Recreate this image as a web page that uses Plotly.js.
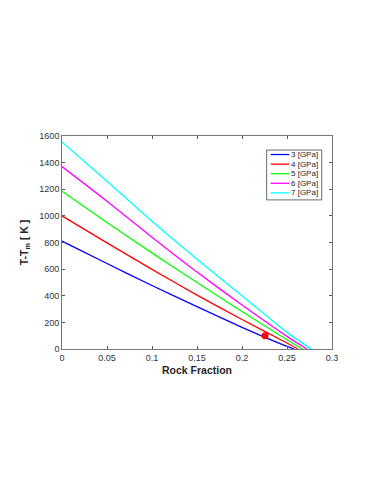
<!DOCTYPE html>
<html>
<head>
<meta charset="UTF-8">
<script src="https://cdn.plot.ly/plotly-3.0.1.min.js"></script>
<style>
  body { margin: 0; padding: 0; background: #fff; }
  #plot { width: 382px; height: 494px; }
</style>
</head>
<body>
<div id="plot"></div>
<script>
// curves
const names = ['3 [GPa]', '4 [GPa]', '5 [GPa]', '6 [GPa]', '7 [GPa]'];
const colors = ['#0000ff', '#ff0000', '#00ff00', '#ff00ff', '#00ffff'];
const xBase = [0, 0.05, 0.1, 0.15, 0.2, 0.25];
const xZero = [0.258, 0.262, 0.267, 0.272, 0.277];
const y3 = [810, 642, 477, 318, 163, 20, 0];
const y4 = [1000, 797, 598, 405, 222, 45, 0];
const y5 = [1185, 950, 722, 500, 282, 70, 0];
const y6 = [1370, 1110, 840, 578, 330, 95, 0];
const y7 = [1555, 1260, 960, 675, 400, 125, 0];
const ySeries = [y3, y4, y5, y6, y7];
const pointX = [0.2256];
const pointY = [100];

const data = ySeries.map((ys, i) => ({
  x: xBase.concat([xZero[i]]),
  y: ys,
  type: 'scatter',
  mode: 'lines',
  name: names[i],
  line: { color: colors[i], width: 1.3, shape: 'spline', smoothing: 0.6 },
  showlegend: false
}));
data.push({
  x: pointX, y: pointY, type: 'scatter', mode: 'markers',
  marker: { color: '#ff0000', size: 7 }, showlegend: false
});

// hand-built legend, matlab style (plotly's own is too tall)
const shapes = [{
  type: 'rect', xref: 'paper', yref: 'paper',
  x0: 0.758, x1: 0.962, y0: 0.700, y1: 0.934,
  line: { color: '#444', width: 0.8 }, fillcolor: '#fff', layer: 'above'
}];
const annotations = [];
names.forEach((n, i) => {
  const yy = 0.913 - i * 0.045;
  shapes.push({
    type: 'line', xref: 'paper', yref: 'paper',
    x0: 0.773, x1: 0.842, y0: yy, y1: yy,
    line: { color: colors[i], width: 1.3 }, layer: 'above'
  });
  annotations.push({
    xref: 'paper', yref: 'paper', x: 0.846, y: yy,
    xanchor: 'left', yanchor: 'middle', showarrow: false, borderpad: 0,
    text: n, font: { size: 8, color: '#262626' }
  });
});

const axisCommon = {
  showline: true, mirror: 'ticks', linecolor: '#555', linewidth: 0.8,
  ticks: 'inside', ticklen: 3, tickcolor: '#555',
  showgrid: false, zeroline: false,
  tickfont: { family: 'Liberation Sans, Arial, sans-serif', size: 9, color: '#333' }
};

const layout = {
  width: 382, height: 494,
  margin: { l: 62, r: 50, t: 136, b: 145 },
  paper_bgcolor: '#fff', plot_bgcolor: '#fff',
  font: { family: 'Liberation Sans, Arial, sans-serif' },
  xaxis: Object.assign({}, axisCommon, {
    range: [0, 0.3], dtick: 0.05, tick0: 0,
    title: { text: '<b>Rock Fraction</b>', font: { size: 10.5, color: '#262626' }, standoff: 4 }
  }),
  yaxis: Object.assign({}, axisCommon, {
    range: [0, 1600], dtick: 200,
    title: { text: '<b>T-T<sub>m</sub> [ K ]</b>', font: { size: 10.5, color: '#262626' }, standoff: 8 }
  }),
  shapes: shapes,
  annotations: annotations
};

Plotly.newPlot('plot', data, layout, { displayModeBar: false, staticPlot: true });
</script>
</body>
</html>
